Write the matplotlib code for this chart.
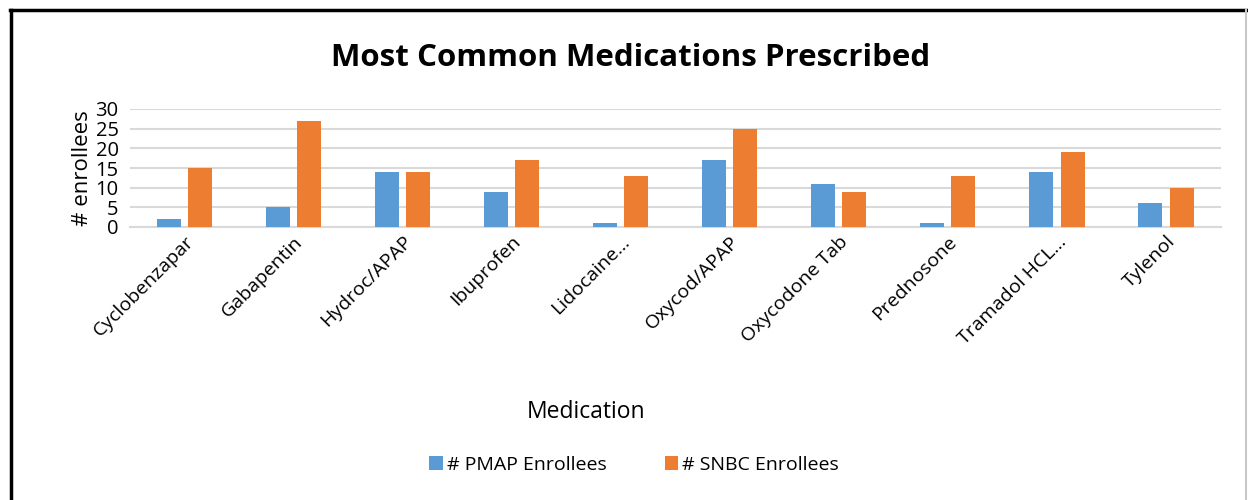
import numpy as np
import matplotlib.pyplot as plt
from matplotlib.lines import Line2D

medications = ['Cyclobenzapar', 'Gabapentin', 'Hydroc/APAP', 'Ibuprofen', 'Lidocaine…',
               'Oxycod/APAP', 'Oxycodone Tab', 'Prednosone', 'Tramadol HCL…', 'Tylenol']
pmap = [2, 5, 14, 9, 1, 17, 11, 1, 14, 6]
snbc = [15, 27, 14, 17, 13, 25, 9, 13, 19, 10]
y_ticks = [0, 5, 10, 15, 20, 25, 30]

plt.rcParams['font.family'] = ['Open Sans', 'DejaVu Sans']

fig = plt.figure(figsize=(12.48, 5), dpi=100)
ax = fig.add_axes([0.104, 0.546, 0.874, 0.236])

x = np.arange(len(medications))
w = 0.22
ax.bar(x - 0.143, pmap, w, color='#5B9BD5', label='# PMAP Enrollees', zorder=3)
ax.bar(x + 0.143, snbc, w, color='#ED7D31', label='# SNBC Enrollees', zorder=3)

ax.set_xlim(-0.5, len(medications) - 0.5)
ax.set_ylim(0, 30)
ax.set_yticks(y_ticks)
ax.tick_params(axis='y', length=0, labelsize=14.5, pad=8)
ax.tick_params(axis='x', length=0, labelsize=14, pad=4)
ax.set_xticks(x)
ax.set_xticklabels(medications, rotation=45, ha='right', rotation_mode='anchor')
ax.grid(axis='y', color='#D9D9D9', linewidth=1.5, zorder=0)
for s in ['top', 'right', 'left']:
    ax.spines[s].set_visible(False)
ax.spines['bottom'].set_color('#D9D9D9')
ax.spines['bottom'].set_linewidth(1.5)

ax.set_ylabel('# enrollees', fontsize=16, labelpad=2)
fig.text(0.505, 0.885, 'Most Common Medications Prescribed', ha='center', va='center',
         fontsize=22.5, fontweight='bold')
fig.text(0.47, 0.175, 'Medication', ha='center', va='center', fontsize=16.5)

fig.legend(loc='center', bbox_to_anchor=(0.508, 0.07), ncol=2, frameon=False,
           fontsize=14, handlelength=0.7, handleheight=0.7, handletextpad=0.2,
           columnspacing=3.0)

# chart border (left and top black, right light)
fig.add_artist(Line2D([0.009, 0.009], [0, 0.981], color='black', lw=2.5, transform=fig.transFigure))
fig.add_artist(Line2D([0.008, 1], [0.98, 0.98], color='black', lw=2.5, transform=fig.transFigure))
fig.add_artist(Line2D([0.9985, 0.9985], [0, 0.98], color='#C8C8C8', lw=1.5, transform=fig.transFigure))

fig.savefig('out.png', dpi=100)
